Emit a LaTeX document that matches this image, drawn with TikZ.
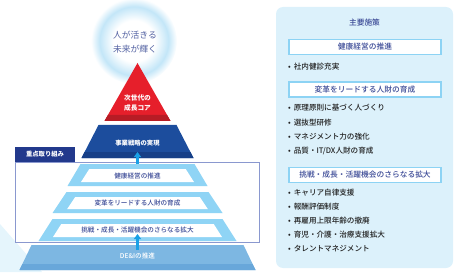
\documentclass[tikz,border=0pt]{standalone}
\usepackage{fontspec}
\setmainfont{Noto Sans CJK JP}
\newfontfamily\medfont{Noto Sans CJK JP Medium}
\usetikzlibrary{arrows.meta}

\definecolor{redtop}{HTML}{E61F2B}
\definecolor{redstrip}{HTML}{B71C25}
\definecolor{stratblue}{HTML}{1C4D9D}
\definecolor{stratstrip}{HTML}{163F87}
\definecolor{bandblue}{HTML}{8FD4F5}
\definecolor{deiblue}{HTML}{7DB7E2}
\definecolor{deistrip}{HTML}{68A7DA}
\definecolor{navytext}{HTML}{3C4B97}
\definecolor{tabnavy}{HTML}{22398C}
\definecolor{keyline}{HTML}{8A98CF}
\definecolor{arrowblue}{HTML}{1AA1E6}
\definecolor{panelfill}{HTML}{DCF1FB}
\definecolor{panelline}{HTML}{8DD3F4}
\definecolor{itemtext}{HTML}{222222}
\definecolor{glowblue}{HTML}{C3E6F8}
\definecolor{paletri}{HTML}{E5F5FC}
\definecolor{glowtext}{HTML}{5463A3}

\pgfdeclareradialshading{glowring}{\pgfpointorigin}{color(0bp)=(white); color(12bp)=(white); color(20bp)=(glowblue); color(25bp)=(white); color(50bp)=(white)}

\begin{document}
\begin{tikzpicture}[x=0.5mm, y=-0.5mm,
    band/.style={fill=bandblue},
    hollow/.style={fill=white},
    bandtext/.style={text=navytext, font=\medfont\fontsize{9.4}{11}\selectfont},
    whitetext/.style={text=white, font=\bfseries\fontsize{9}{11}\selectfont},
    headbox/.style={rectangle, draw=panelline, line width=0.8mm, fill=white, minimum width=76mm, minimum height=7.6mm, inner sep=0pt, text=navytext, font=\medfont\fontsize{11}{13}\selectfont},
    item/.style={anchor=west, inner sep=0pt, text=itemtext, font=\medfont\fontsize{10.8}{13}\selectfont},
    uparrow/.style={draw=arrowblue, line width=1.1mm, -{Triangle[width=3.6mm, length=2.6mm]}}
  ]
    \useasboundingbox (0,0) rectangle (461,274);

    % Background
    \fill[paletri] (0,224) -- (42,272) -- (0,272) -- cycle;
    \shade[shading=glowring] (134,41) circle (43);
    \node[text=glowtext, align=center, font=\fontsize{12.5}{20}\selectfont] (vision) at (135,42) {人が活きる\\未来が輝く};

    % Top of the pyramid
    \fill[redtop] (137.5,63) -- (170.5,121) -- (104.5,121) -- cycle;
    \fill[redstrip] (107.9,115) -- (167.1,115) -- (170.5,121) -- (104.5,121) -- cycle;
    \node[text=white, align=center, font=\bfseries\fontsize{9.5}{14.2}\selectfont] (core) at (137.5,103) {次世代の\\成長コア};

    \fill[stratblue] (98.5,125) -- (176.5,125) -- (193.5,158) -- (81.5,158) -- cycle;
    \fill[stratstrip] (84.6,152) -- (190.4,152) -- (193.5,158) -- (81.5,158) -- cycle;
    \node[whitetext] (strategy) at (137.5,143) {事業戦略の実現};

    % Key initiatives frame
    \draw[keyline, fill=white, line width=0.45mm] (15,162) rectangle (259,242);
    \fill[tabnavy] (15,147) rectangle (75,162);
    \node[whitetext] (keytab) at (45,154.5) {重点取り組み};

    % Bands
    \fill[band] (80.5,164) -- (194.5,164) -- (207.5,186) -- (67.5,186) -- cycle;
    \fill[hollow] (89.3,169) -- (185.7,169) -- (194,182) -- (81,182) -- cycle;
    \node[bandtext] (health) at (137.5,175.5) {健康経営の推進};

    \fill[band] (66.5,192) -- (208.5,192) -- (222.5,213) -- (52.5,213) -- cycle;
    \fill[hollow] (75.2,197) -- (199.8,197) -- (207.8,209) -- (67.2,209) -- cycle;
    \node[bandtext] (talent) at (137.5,203) {変革をリードする人財の育成};

    \fill[band] (52.5,219) -- (222.5,219) -- (236.5,241) -- (38.5,241) -- cycle;
    \fill[hollow] (61.3,224) -- (213.7,224) -- (222,237) -- (53,237) -- cycle;
    \node[bandtext] (chance) at (137.5,230.5) {挑戦・成長・活躍機会のさらなる拡大};

    % Base
    \fill[deiblue] (31.5,245) -- (243.5,245) -- (255.5,270) -- (19.5,270) -- cycle;
    \fill[deistrip] (22.4,264) -- (252.6,264) -- (255.5,270) -- (19.5,270) -- cycle;
    \node[text=white, font=\medfont\fontsize{9.4}{11}\selectfont] (dei) at (137.5,256) {DE\&Iの推進};

    % Arrows
    \coordinate (upA0) at (137.5,164);
    \coordinate (upA1) at (137.5,152);
    \coordinate (upB0) at (137.5,250);
    \coordinate (upB1) at (137.5,234);
    \draw[uparrow] (upA0) -- (upA1);
    \draw[uparrow] (upB0) -- (upB1);

    % Main measures panel
    \fill[panelfill, rounded corners=3.5mm] (276,7) rectangle (453,268);
    \node[text=navytext, font=\medfont\fontsize{11}{13}\selectfont] (measures) at (364.5,23) {主要施策};

    \node[headbox] (mhealth) at (365,47) {健康経営の推進};
    \node[item] (i1) at (288,67) {\textbullet\hspace{1.5mm}社内健診充実};

    \node[headbox] (mtalent) at (365,89.5) {変革をリードする人財の育成};
    \node[item] (i2) at (288,108) {\textbullet\hspace{1.5mm}原理原則に基づく人づくり};
    \node[item] (i3) at (288,122.5) {\textbullet\hspace{1.5mm}選抜型研修};
    \node[item] (i4) at (288,137) {\textbullet\hspace{1.5mm}マネジメント力の強化};
    \node[item] (i5) at (288,151) {\textbullet\hspace{1.5mm}品質・IT/DX人財の育成};

    \node[headbox] (mchance) at (365,175) {挑戦・成長・活躍機会のさらなる拡大};
    \node[item] (i6) at (288,193) {\textbullet\hspace{1.5mm}キャリア自律支援};
    \node[item] (i7) at (288,207) {\textbullet\hspace{1.5mm}報酬評価制度};
    \node[item] (i8) at (288,221) {\textbullet\hspace{1.5mm}再雇用上限年齢の撤廃};
    \node[item] (i9) at (288,235) {\textbullet\hspace{1.5mm}育児・介護・治療支援拡大};
    \node[item] (i10) at (288,249) {\textbullet\hspace{1.5mm}タレントマネジメント};

  \end{tikzpicture}
\end{document}
